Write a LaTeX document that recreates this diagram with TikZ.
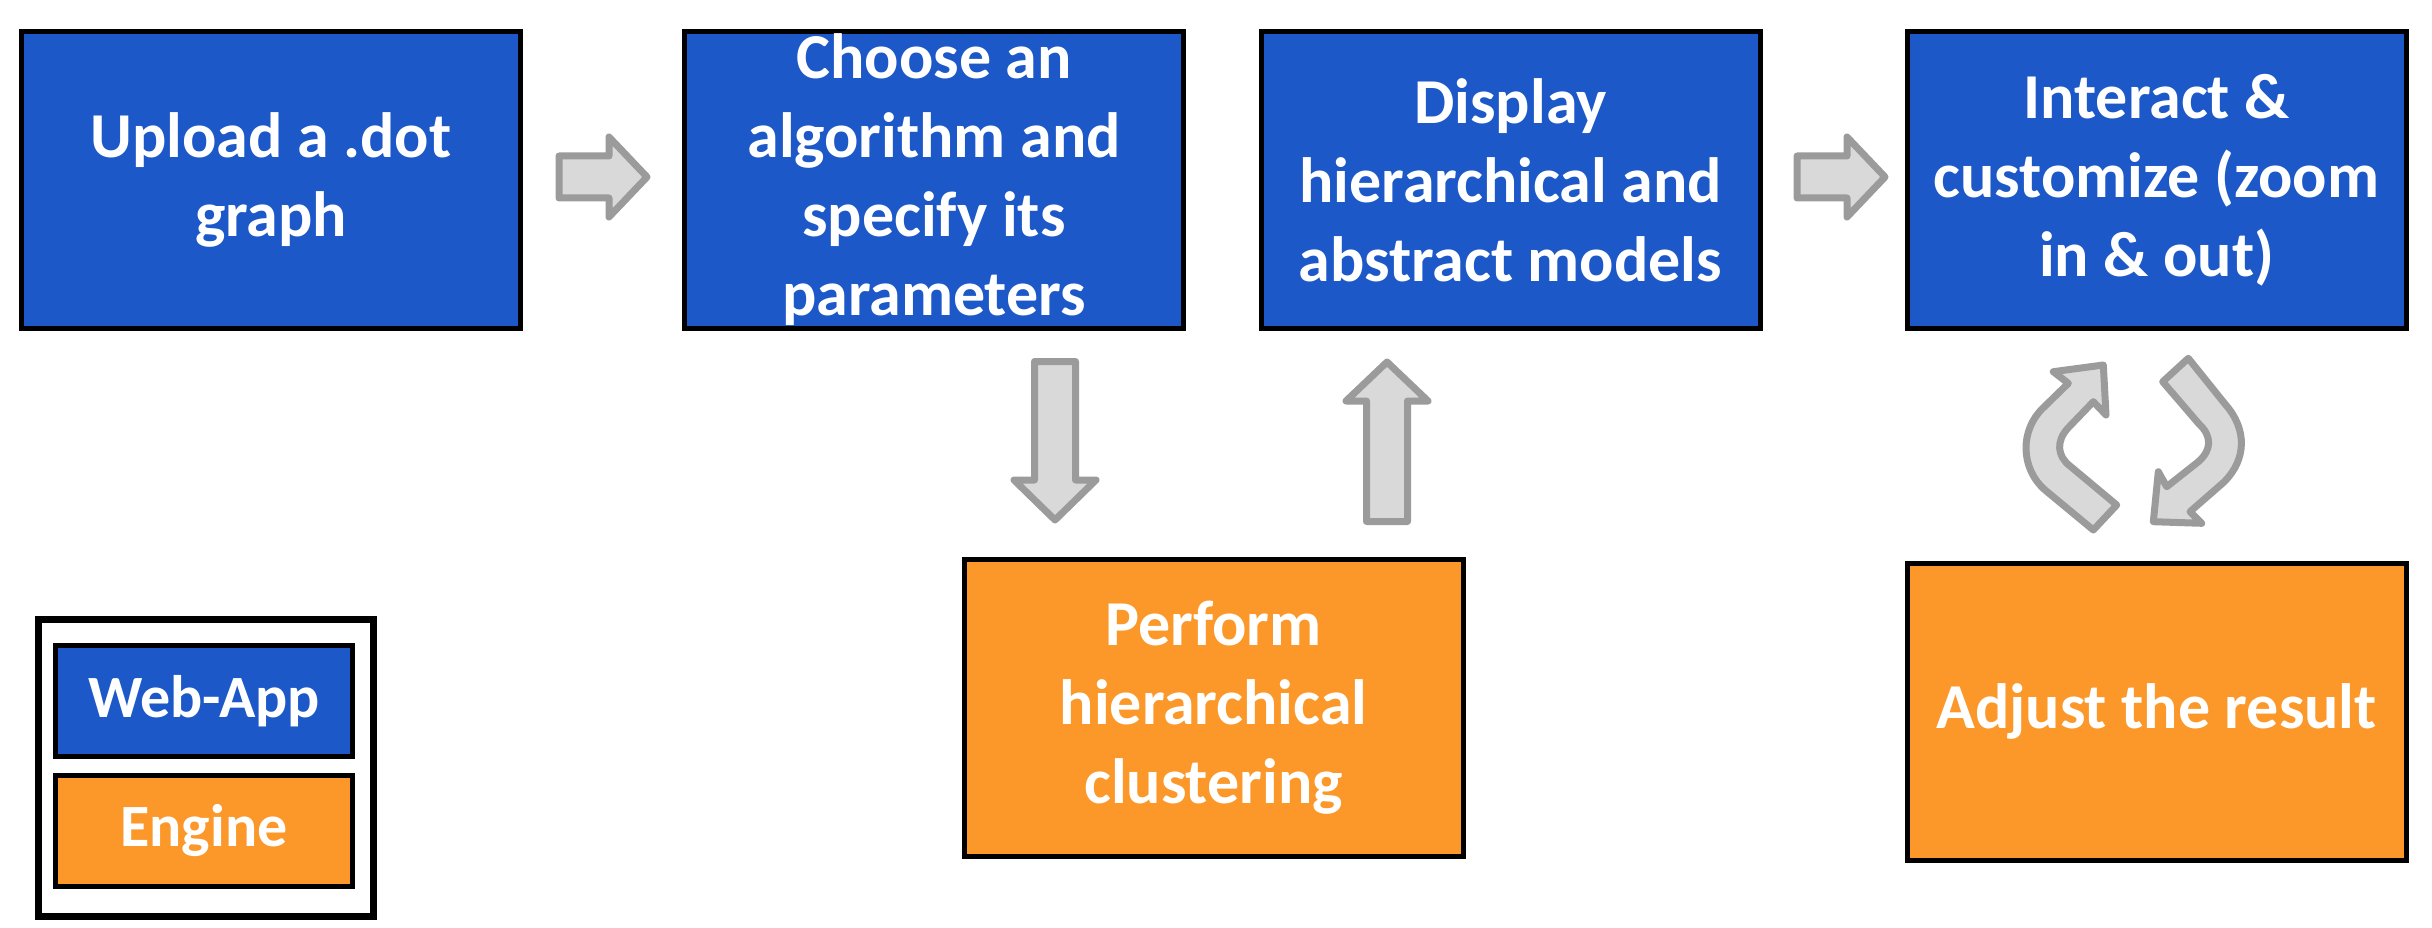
\documentclass[tikz,border=0pt]{standalone}
\usepackage{fontspec}
\setmainfont{Carlito}
\definecolor{wblue}{RGB}{28,88,200}
\definecolor{eorange}{RGB}{251,152,41}
\definecolor{arrfill}{RGB}{217,217,217}
\definecolor{arrline}{RGB}{155,155,155}
\tikzset{
  box/.style={draw=black, line width=5pt, minimum width=499pt, minimum height=297pt,
    text=white, align=center, inner sep=0pt, font=\fontsize{64}{79}\selectfont\bfseries},
  webbox/.style={box, fill=wblue},
  engbox/.style={box, fill=eorange},
  legbox/.style={draw=black, line width=5pt, minimum width=297pt, minimum height=111pt,
    text=white, inner sep=0pt, font=\fontsize{60}{74}\selectfont\bfseries},
  blockarrow/.style={draw=arrline, fill=arrfill, line width=7pt, line join=round},
}
\begin{document}
\begin{tikzpicture}[x=1pt,y=-1pt]
\useasboundingbox (0,0) rectangle (2432,928);
% main boxes
\node[webbox] (upload) at (271,180) {Upload a .dot\\graph};
\node[webbox] (choose) at (934,180) {Choose an\\algorithm and\\specify its\\parameters};
\node[webbox] (display) at (1510.5,180) {Display\\hierarchical and\\abstract models};
\node[webbox] (interact) at (2156.5,180) {Interact \&\\customize (zoom\\in \& out)};
\node[engbox] (perform) at (1213.5,707.5) {Perform\\hierarchical\\clustering};
\node[engbox] (adjust) at (2156.5,711.5) {Adjust the result};
% legend
\node[draw=black, line width=7pt, minimum width=335pt, minimum height=297pt, fill=white] (legend) at (206,768) {};
\node[legbox, fill=wblue] (legweb) at (204,701) {Web-App};
\node[legbox, fill=eorange] (legeng) at (204,831) {Engine};
% straight block arrows
\path[blockarrow] (559,156) -- (609,156) -- (609,137) -- (647,177) -- (609,217) -- (609,198) -- (559,198) -- cycle;
\path[blockarrow] (1797,156) -- (1847,156) -- (1847,137) -- (1885,177) -- (1847,217) -- (1847,198) -- (1797,198) -- cycle;
\path[blockarrow] (1034.5,361.5) -- (1075.5,361.5) -- (1075.5,480) -- (1096,480) -- (1055,520) -- (1014,480) -- (1034.5,480) -- cycle;
\path[blockarrow] (1366.5,521.5) -- (1407.5,521.5) -- (1407.5,401) -- (1428,401) -- (1387,362) -- (1346,401) -- (1366.5,401) -- cycle;
% circular arrows
\path[blockarrow] (2093.3,530) -- (2045,490) .. controls (2020,468) and (2020,430) .. (2043,408)
  -- (2068.3,383.3) -- (2053.3,371.7) -- (2103.3,365) -- (2106,415) -- (2093.3,401.7)
  -- (2068,428) .. controls (2056,441) and (2057,456) .. (2070,466) -- (2116.7,505) -- cycle;
\path[blockarrow] (2188.3,358.3) -- (2225,404) .. controls (2248,430) and (2246,460) .. (2224,482)
  -- (2190,511.7) -- (2201.7,523.3) -- (2153.3,521.7) -- (2158.3,471.7) -- (2166.7,486.7)
  -- (2198,462) .. controls (2212,450) and (2212,436) .. (2199,424) -- (2162.7,381.7) -- cycle;
\end{tikzpicture}
\end{document}
